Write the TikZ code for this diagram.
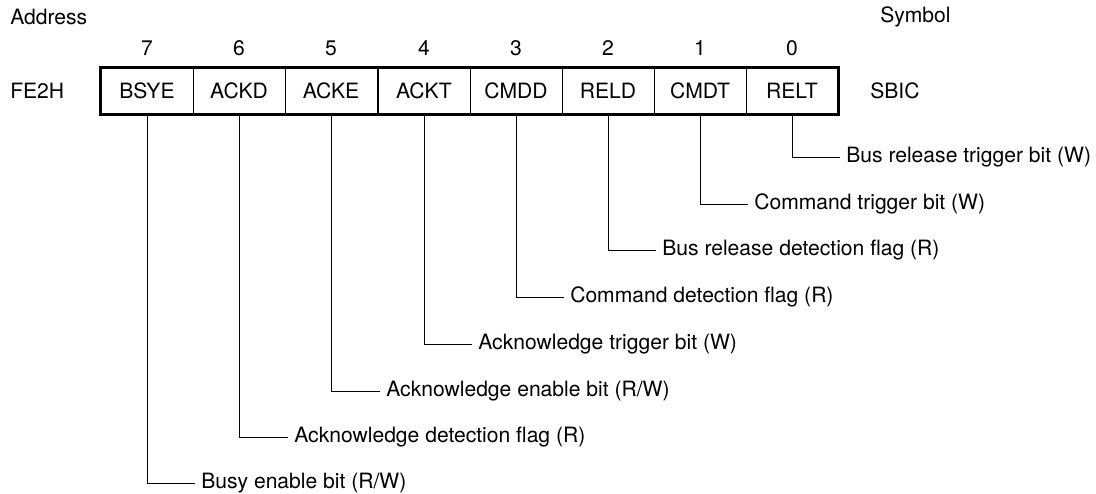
\documentclass[tikz,border=0pt]{standalone}
\usepackage{fontspec}
\setmainfont{TeX Gyre Heros}
\usetikzlibrary{positioning}
\tikzset{
   bitcell/.style={ rectangle, draw=black, semithick, minimum width=2.3cm, minimum height=1.15cm, inner sep=0pt, text centered},
   bitnum/.style={ inner sep=0pt, anchor=center},
   plain text/.style={ inner sep=0pt, anchor=west},
   bit label/.style={ inner sep=0.15cm, anchor=west},
   leader/.style={ draw=black, line width=0.6pt}
}

\begin{document}
\begin{tikzpicture}[x=0.025cm,y=-0.025cm,font=\fontsize{15}{17}\selectfont]

  \useasboundingbox (0,0) rectangle (1096,493);

  \node[plain text] at (10,17)  (address) {Address};
  \node[plain text] at (880,17) (symbol)  {Symbol};
  \node[plain text] at (10,91)  (fe2h)    {FE2H};
  \node[plain text] at (870,91) (sbic)    {SBIC};

  %% Register cells
  \node[bitcell] at (147,91) (bsye) {BSYE};
  \node[bitcell] at (239,91) (ackd) {ACKD};
  \node[bitcell] at (331,91) (acke) {ACKE};
  \node[bitcell] at (424,91) (ackt) {ACKT};
  \node[bitcell] at (516,91) (cmdd) {CMDD};
  \node[bitcell] at (608,91) (reld) {RELD};
  \node[bitcell] at (700,91) (cmdt) {CMDT};
  \node[bitcell] at (792,91) (relt) {RELT};

  \draw[line width=1.6pt] (bsye.north west) rectangle (relt.south east);

  %% Bit numbers
  \node[bitnum] at (147,48) (n7) {7};
  \node[bitnum] at (239,48) (n6) {6};
  \node[bitnum] at (331,48) (n5) {5};
  \node[bitnum] at (424,48) (n4) {4};
  \node[bitnum] at (516,48) (n3) {3};
  \node[bitnum] at (608,48) (n2) {2};
  \node[bitnum] at (700,48) (n1) {1};
  \node[bitnum] at (792,48) (n0) {0};

  %% Descriptions
  \node[bit label] at (840,157) (relt label) {Bus release trigger bit (W)};
  \node[bit label] at (748,204) (cmdt label) {Command trigger bit (W)};
  \node[bit label] at (656,250) (reld label) {Bus release detection flag (R)};
  \node[bit label] at (564,297) (cmdd label) {Command detection flag (R)};
  \node[bit label] at (472,344) (ackt label) {Acknowledge trigger bit (W)};
  \node[bit label] at (380,391) (acke label) {Acknowledge enable bit (R/W)};
  \node[bit label] at (288,437) (ackd label) {Acknowledge detection flag (R)};
  \node[bit label] at (195,483) (bsye label) {Busy enable bit (R/W)};

  \draw[leader] (relt.south) |- (relt label.west);
  \draw[leader] (cmdt.south) |- (cmdt label.west);
  \draw[leader] (reld.south) |- (reld label.west);
  \draw[leader] (cmdd.south) |- (cmdd label.west);
  \draw[leader] (ackt.south) |- (ackt label.west);
  \draw[leader] (acke.south) |- (acke label.west);
  \draw[leader] (ackd.south) |- (ackd label.west);
  \draw[leader] (bsye.south) |- (bsye label.west);

\end{tikzpicture}
\end{document}
